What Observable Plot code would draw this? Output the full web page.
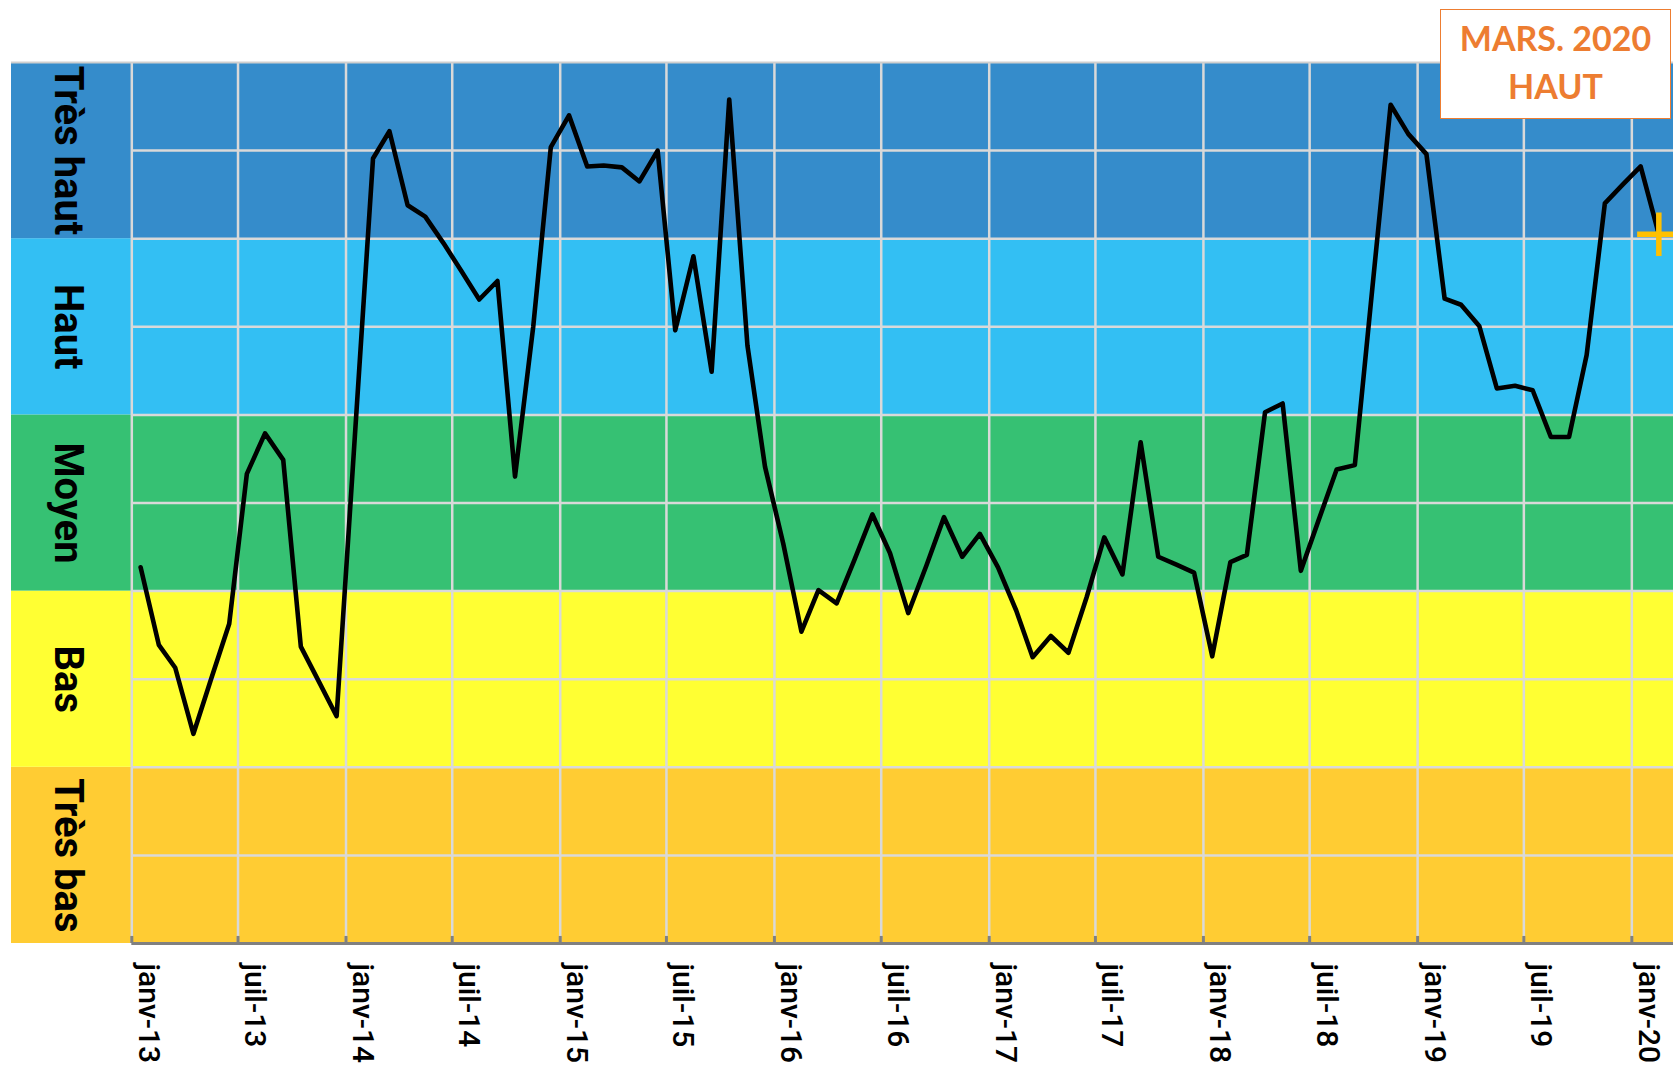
<!DOCTYPE html>
<html>
<head>
<meta charset="utf-8">
<script src="https://cdn.jsdelivr.net/npm/d3@7"></script>
<script src="https://cdn.jsdelivr.net/npm/@observablehq/plot@0.6"></script>
<style>
html, body { margin: 0; padding: 0; background: #fff; }
#wrap { position: relative; width: 1673px; height: 1069px; overflow: hidden; font-family: Roboto, sans-serif; }
#wrap svg { display: block; }
#note {
  position: absolute; left: 1440px; top: 9px; width: 231px; height: 110px;
  box-sizing: border-box; border: 1.5px solid #ED7D31; background: #fff;
  color: #ED7D31; font-family: Lato, sans-serif; font-weight: bold;
  font-size: 34px; line-height: 48px; text-align: center; padding-top: 4px; z-index: 2;
}
</style>
</head>
<body>
<div id="wrap"><div id="note">MARS. 2020<br>HAUT</div></div>
<script>
// ---- data ----
const months = [
  "2013-01","2013-02","2013-03","2013-04","2013-05","2013-06","2013-07","2013-08","2013-09","2013-10","2013-11","2013-12",
  "2014-01","2014-02","2014-03","2014-04","2014-05","2014-06","2014-07","2014-08","2014-09","2014-10","2014-11","2014-12",
  "2015-01","2015-02","2015-03","2015-04","2015-05","2015-06","2015-07","2015-08","2015-09","2015-10","2015-11","2015-12",
  "2016-01","2016-02","2016-03","2016-04","2016-05","2016-06","2016-07","2016-08","2016-09","2016-10","2016-11","2016-12",
  "2017-01","2017-02","2017-03","2017-04","2017-05","2017-06","2017-07","2017-08","2017-09","2017-10","2017-11","2017-12",
  "2018-01","2018-02","2018-03","2018-04","2018-05","2018-06","2018-07","2018-08","2018-09","2018-10","2018-11","2018-12",
  "2019-01","2019-02","2019-03","2019-04","2019-05","2019-06","2019-07","2019-08","2019-09","2019-10","2019-11","2019-12",
  "2020-01","2020-02"
];
const values = [
  4.27, 3.39, 3.13, 2.38, 3.00, 3.63, 5.33, 5.79, 5.49, 3.37, 2.97, 2.58,
  5.75, 8.91, 9.22, 8.38, 8.25, 7.95, 7.64, 7.31, 7.52, 5.30, 7.00, 9.04,
  9.40, 8.82, 8.83, 8.81, 8.65, 9.00, 6.96, 7.80, 6.49, 9.58, 6.79, 5.41,
  4.54, 3.54, 4.01, 3.86, 4.35, 4.87, 4.43, 3.75, 4.29, 4.84, 4.39, 4.65,
  4.27, 3.78, 3.25, 3.49, 3.30, 3.93, 4.61, 4.19, 5.69, 4.39, 4.30, 4.21,
  3.26, 4.33, 4.41, 6.03, 6.13, 4.23, 4.80, 5.38, 5.43, 7.45, 9.52, 9.19,
  8.96, 7.32, 7.25, 7.01, 6.30, 6.33, 6.28, 5.75, 5.75, 6.68, 8.40, 8.61,
  8.82, 8.05
];
const tickLabels = [
  "janv-13","juil-13","janv-14","juil-14","janv-15","juil-15","janv-16","juil-16",
  "janv-17","juil-17","janv-18","juil-18","janv-19","juil-19","janv-20"
];
const bandLabels = ["Très bas", "Bas", "Moyen", "Haut", "Très haut"];
const bandLow  = [0, 2, 4, 6, 8];
const bandHigh = [2, 4, 6, 8, 10];
const gridValues = [1, 2, 3, 4, 5, 6, 7, 8, 9];

// ---- styles ----
const bandColors = ["#FFCC33", "#FFFF33", "#36C173", "#33BFF3", "#358CCB"];
const gridColor = "#D9D9D9";
const axisColor = "#808080";

// ---- build ----
const parseMonth = s => new Date(Date.UTC(+s.slice(0, 4), +s.slice(5, 7) - 1, 16));
const data = months.map((m, i) => ({date: parseMonth(m), value: values[i]}));
const tickDates = tickLabels.map(l => new Date(Date.UTC(2000 + +l.slice(-2), l.startsWith("janv") ? 0 : 6, 1)));
const bands = bandLabels.map((label, i) => ({label, low: bandLow[i], high: bandHigh[i]}));
const xStart = tickDates[0];
const xDomain = [d3.utcDay.offset(xStart, -205), new Date(Date.UTC(2020, 2, 12))];

const chart = Plot.plot({
  width: 1673,
  height: 1069,
  marginLeft: 11,
  marginRight: 0,
  marginTop: 62,
  marginBottom: 126,
  style: {fontFamily: "Roboto, sans-serif", background: "transparent", overflow: "visible"},
  x: {type: "utc", domain: xDomain, axis: null},
  y: {domain: [0, 10], axis: null},
  color: {type: "ordinal", domain: bandLabels, range: bandColors},
  marks: [
    Plot.rect(bands, {x1: () => xDomain[0], x2: () => xDomain[1], y1: "low", y2: "high", fill: "label"}),
    Plot.ruleX(tickDates, {stroke: gridColor, strokeWidth: 2.5}),
    Plot.ruleY(gridValues, {x1: () => xStart, x2: () => xDomain[1], stroke: gridColor, strokeWidth: 2.5}),
    Plot.ruleY([10], {stroke: "#CFCFCF", strokeWidth: 2}),
    Plot.ruleY([0], {x1: () => xStart, x2: () => xDomain[1], stroke: axisColor, strokeWidth: 3}),
    Plot.ruleX(tickDates, {y1: 0, y2: 0.08, stroke: axisColor, strokeWidth: 3}),
    Plot.line(data, {x: "date", y: "value", stroke: "#000", strokeWidth: 4.6}),
    Plot.dot(data.slice(-1), {x: "date", y: "value", symbol: "plus", r: 14, stroke: "#FFC000", strokeWidth: 5.5}),
    Plot.text(bands, {
      y: d => (d.low + d.high) / 2, frameAnchor: "left", dx: 56,
      text: "label", rotate: 90, textAnchor: "middle",
      fontSize: 40, fontWeight: "bold", fill: "#000"
    }),
    Plot.text(tickDates, {
      x: d => d, frameAnchor: "bottom", text: (d, i) => tickLabels[i],
      rotate: 90, textAnchor: "start", dy: 20, dx: 7, fontSize: 30, fontWeight: 500, fill: "#000"
    })
  ]
});
document.getElementById("wrap").prepend(chart);
</script>
</body>
</html>
